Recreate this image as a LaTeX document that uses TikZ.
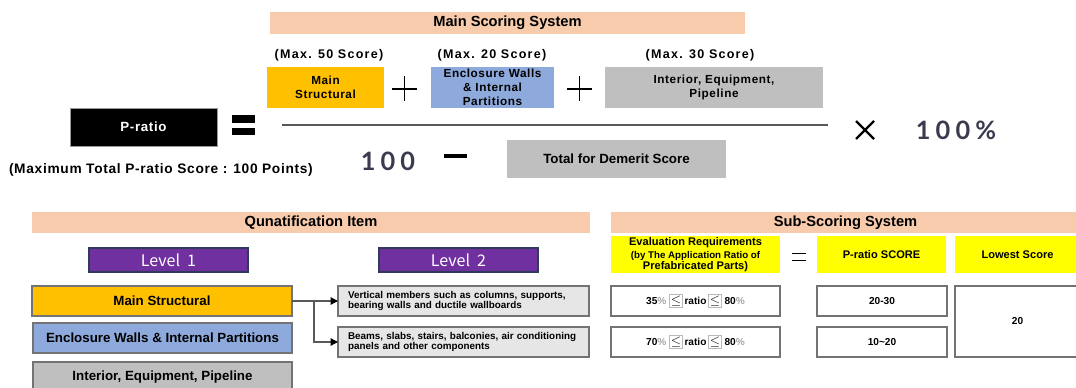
\documentclass[tikz,border=0pt]{standalone}
\usepackage{fontspec}
\setmainfont{Liberation Sans}
\newfontfamily\lsfont{Liberation Sans}[LetterSpace=10]
\newfontfamily\lsmfont{Liberation Sans}[LetterSpace=5]
\newfontfamily\numfont{Lato}[LetterSpace=20]
\newfontfamily\lvfont{Noto Sans CJK KR}
\usetikzlibrary{arrows.meta}
\definecolor{peach}{HTML}{F8CBAD}
\definecolor{gold}{HTML}{FFC000}
\definecolor{lblue}{HTML}{8EA9DB}
\definecolor{mgray}{HTML}{BFBFBF}
\definecolor{lgray}{HTML}{E7E6E6}
\definecolor{yel}{HTML}{FFFF00}
\definecolor{purp}{HTML}{7030A0}
\definecolor{navy}{HTML}{2F3A5C}
\definecolor{numc}{HTML}{3B3B4F}
\newcommand\lebox{\fcolorbox{gray!55}{white}{\fontsize{10}{10}\selectfont$\leq$}}
\newcommand\ind{\hspace*{3.75pt}}
\begin{document}
\begin{tikzpicture}[x=0.75pt,y=-0.75pt,
  wh/.style 2 args={minimum width=#1*0.75pt,minimum height=#2*0.75pt},
  every node/.style={inner sep=0pt,outer sep=0pt},
  hdr/.style={fill=peach,font=\fontsize{11}{13}\selectfont\bfseries},
  mx/.style={font=\lsfont\fontsize{9.4}{11}\selectfont\bfseries},
  topbox/.style={align=center,font=\lsmfont\fontsize{8.8}{10.5}\selectfont\bfseries},
  num/.style={text=numc,font=\numfont\fontsize{19}{22}\selectfont\bfseries},
  lvl/.style={fill=purp,draw=navy,line width=0.9pt,text=white,font=\lvfont\fontsize{12}{14}\selectfont},
  lbox/.style={draw=black!55,line width=0.9pt,font=\fontsize{10}{12}\selectfont\bfseries},
  sbox/.style={fill=lgray,draw=black!55,line width=0.9pt,align=left,inner xsep=5*0.75pt,text width=241*0.75pt,font=\fontsize{7.4}{7.6}\selectfont\bfseries},
  ybox/.style={fill=yel,align=center,font=\fontsize{8.3}{8.3}\selectfont\bfseries},
  wbox/.style={fill=white,draw=black!55,line width=0.9pt,font=\fontsize{7.6}{9}\selectfont\bfseries},
  conn/.style={draw=black!65,line width=0.9pt,-{Triangle[length=5.5pt,width=5.5pt,color=black]}}
]
\useasboundingbox (0,0) rectangle (1076,388);
\fboxsep=0.6pt \fboxrule=0.6pt
% ---------- top formula ----------
\node[hdr,wh={475}{22}] (mss) at (507.5,23) {Main Scoring System};
\node[mx] (m50) at (329,55) {(Max. 50 Score)};
\node[mx] (m20) at (492,55) {(Max. 20 Score)};
\node[mx] (m30) at (700,55) {(Max. 30 Score)};
\node[topbox,fill=gold,wh={117}{41}] (ms) at (325.5,87.5) {Main\\Structural};
\node[topbox,fill=lblue,wh={123}{41}] (ew) at (492.5,87.5) {Enclosure Walls\\\& Internal\\Partitions};
\node[topbox,fill=mgray,wh={218}{41}] (ie) at (714,87.5) {Interior, Equipment,\\Pipeline};
\draw[line width=1pt] (392,89) -- (417,89) (404.5,76.5) -- (404.5,101.5);
\draw[line width=1pt] (567,89) -- (592,89) (579.5,76.5) -- (579.5,101.5);
\node[fill=black,draw=black!40,line width=0.6pt,text=white,wh={147}{38},font=\lsmfont\fontsize{10}{12}\selectfont\bfseries] (pr) at (143.5,127) {P-ratio};
\fill (232,115) rectangle (255,123);
\fill (232,128) rectangle (255,135);
\draw[line width=0.9pt,black!65] (282,125) -- (828,125);
\node[anchor=west,font=\lsmfont\fontsize{10.3}{12}\selectfont\bfseries] (mt) at (9,170) {(Maximum Total P-ratio Score : 100 Points)};
\node[num] (hund) at (388,161) {100};
\draw[line width=3pt] (444,156) -- (467,156);
\node[fill=mgray,wh={219}{38},font=\fontsize{10}{12}\selectfont\bfseries] (td) at (616.5,159) {Total for Demerit Score};
\draw[line width=1.7pt] (856,121) -- (874,139) (856,139) -- (874,121);
\node[num] (pct) at (956,130) {100\%};
% ---------- quantification ----------
\node[hdr,wh={558}{21}] (qi) at (311,222.5) {Qunatification Item};
\node[hdr,wh={469}{21}] (sss) at (845.5,222.5) {Sub-Scoring System};
\node[lvl,wh={159}{24}] (l1) at (168.5,260) {Level\ \ 1};
\node[lvl,wh={159}{24}] (l2) at (458.5,260) {Level\ \ 2};
\node[lbox,fill=gold,wh={260}{30}] (ms1) at (162,301) {Main Structural};
\node[lbox,fill=lblue,wh={259}{30}] (ew1) at (162.5,338) {Enclosure Walls \& Internal Partitions};
\node[lbox,fill=mgray,wh={259}{30}] (ie1) at (162.5,377) {Interior, Equipment, Pipeline};
\node[sbox,wh={251}{30}] (vm) at (463.5,301) {\ind Vertical members such as columns, supports,\\\ind bearing walls and ductile wallboards};
\node[sbox,wh={251}{30}] (bs) at (463.5,342) {\ind Beams, slabs, stairs, balconies, air conditioning\\\ind panels and other components};
\coordinate (br) at (314,301);
\draw[conn] (ms1.east) -- (vm.west);
\draw[conn] (br) |- (bs.west);
% ---------- sub-scoring ----------
\node[ybox,wh={169}{37}] (er) at (695.5,254.5) {Evaluation Requirements\\[1pt]\fontsize{7.3}{8}\selectfont (by The Application Ratio of\\Prefabricated Parts)};
\draw[line width=1.3pt] (792,253.5) -- (806,253.5) (792,260.5) -- (806,260.5);
\node[ybox,wh={129}{37}] (ps) at (881.5,254.5) {P-ratio SCORE};
\node[ybox,wh={125}{37}] (lsc) at (1017.5,254.5) {Lowest Score};
\node[wbox,wh={169}{30}] (r1) at (695.5,301) {35{\color{gray!70}\%} \lebox\,ratio\,\lebox\ 80{\color{gray!70}\%}};
\node[wbox,wh={169}{30}] (r2) at (695.5,342) {70{\color{gray!70}\%} \lebox\,ratio\,\lebox\ 80{\color{gray!70}\%}};
\node[wbox,wh={130}{30}] (s1) at (882,301) {20-30};
\node[wbox,wh={130}{30}] (s2) at (882,342) {10\textasciitilde20};
\node[wbox,wh={125}{71}] (lw) at (1017.5,321.5) {20};
\end{tikzpicture}
\end{document}
